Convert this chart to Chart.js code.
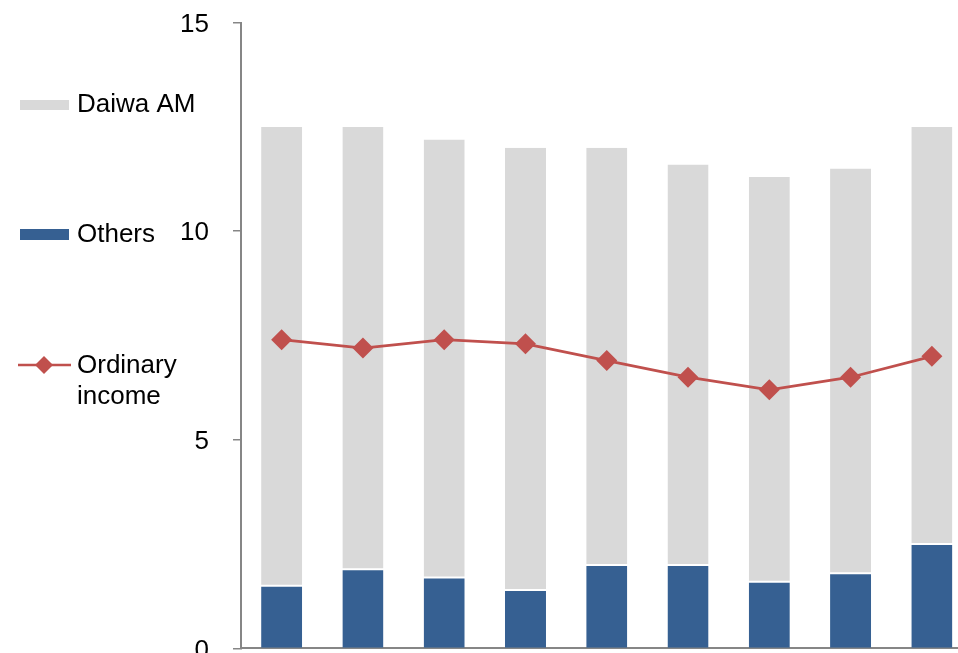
<!DOCTYPE html>
<html>
<head>
<meta charset="utf-8">
<script src="https://cdn.jsdelivr.net/npm/chart.js@4/dist/chart.umd.min.js"></script>
<style>
  html, body { margin: 0; padding: 0; background: #fff; overflow: hidden; }
  #wrap { position: relative; width: 958px; height: 653px; overflow: hidden; }
  canvas { display: block; margin-top: -17px; }
</style>
</head>
<body>
<div id="wrap"><canvas id="c" width="983" height="705"></canvas></div>
<script>
// Periods along the category axis
const periods = ['P1', 'P2', 'P3', 'P4', 'P5', 'P6', 'P7', 'P8', 'P9'];
// Stacked components (billion yen)
const others = [1.5, 1.9, 1.7, 1.4, 2.0, 2.0, 1.6, 1.8, 2.5];
const daiwaAM = [11.0, 10.6, 10.5, 10.6, 10.0, 9.6, 9.7, 9.7, 10.0];
// Ordinary income line
const ordinaryIncome = [7.4, 7.2, 7.4, 7.3, 6.9, 6.5, 6.2, 6.5, 7.0];
// Value axis ticks
const yTicks = [0, 5, 10, 15];

const GRAY = '#D9D9D9';
const BLUE = '#366092';
const RED = '#C0504D';
const AXIS = '#868686';
const FONT = '"Liberation Sans", Arial, sans-serif';
const SHIFT = 17; // canvas is pulled up by this much

// Legend drawn in the left margin
const sideLegend = {
  id: 'sideLegend',
  afterDraw(chart) {
    const ctx = chart.ctx;
    ctx.save();
    ctx.translate(0, SHIFT);
    ctx.font = '26px ' + FONT;
    ctx.textBaseline = 'middle';
    ctx.textAlign = 'left';

    ctx.fillStyle = GRAY;
    ctx.fillRect(20, 100, 49, 10);
    ctx.fillStyle = '#000';
    ctx.fillText('Daiwa AM', 77, 105);

    ctx.fillStyle = BLUE;
    ctx.fillRect(20, 229, 49, 11);
    ctx.fillStyle = '#000';
    ctx.fillText('Others', 77, 235);

    ctx.strokeStyle = RED;
    ctx.lineWidth = 2.5;
    ctx.beginPath();
    ctx.moveTo(18, 365);
    ctx.lineTo(71, 365);
    ctx.stroke();
    ctx.fillStyle = RED;
    ctx.beginPath();
    ctx.moveTo(44, 356);
    ctx.lineTo(53, 365);
    ctx.lineTo(44, 374);
    ctx.lineTo(35, 365);
    ctx.closePath();
    ctx.fill();
    ctx.fillStyle = '#000';
    ctx.fillText('Ordinary', 77, 366);
    ctx.fillText('income', 77, 397);
    ctx.restore();
  }
};

new Chart(document.getElementById('c'), {
  type: 'bar',
  data: {
    labels: periods,
    datasets: [
      {
        type: 'line',
        label: 'Ordinary income',
        data: ordinaryIncome,
        borderColor: RED,
        backgroundColor: RED,
        borderWidth: 2.75,
        pointStyle: 'rectRot',
        pointRadius: 10.5,
        pointBorderWidth: 0,
        pointBackgroundColor: RED,
        tension: 0,
        order: 0,
        stack: 'line'
      },
      {
        label: 'Others',
        data: others,
        backgroundColor: BLUE,
        borderColor: '#fff',
        borderWidth: { top: 1, left: 0, right: 0, bottom: 0 },
        borderSkipped: false,
        barPercentage: 0.505,
        categoryPercentage: 1,
        order: 1,
        stack: 'bars'
      },
      {
        label: 'Daiwa AM',
        data: daiwaAM,
        backgroundColor: GRAY,
        borderColor: '#fff',
        borderWidth: { top: 0, left: 0, right: 0, bottom: 1 },
        borderSkipped: false,
        barPercentage: 0.505,
        categoryPercentage: 1,
        order: 2,
        stack: 'bars'
      }
    ]
  },
  options: {
    responsive: false,
    animation: false,
    layout: { padding: { left: 0, right: 2, top: 10, bottom: 14 } },
    plugins: { legend: { display: false }, tooltip: { enabled: false } },
    scales: {
      x: {
        stacked: true,
        grid: { display: false },
        border: { display: true, color: AXIS, width: 2 },
        ticks: { display: false }
      },
      y: {
        stacked: true,
        min: 0,
        max: 15,
        afterBuildTicks(scale) { scale.ticks = yTicks.map(v => ({ value: v })); },
        afterFit(scale) { scale.width = 241; },
        grid: { drawOnChartArea: false, drawTicks: true, tickLength: 8, color: AXIS, lineWidth: 1.5 },
        border: { display: true, color: AXIS, width: 2 },
        ticks: { color: '#000', padding: 24, labelOffset: 2, font: { family: FONT, size: 26 } }
      }
    }
  },
  plugins: [sideLegend]
});
</script>
</body>
</html>
